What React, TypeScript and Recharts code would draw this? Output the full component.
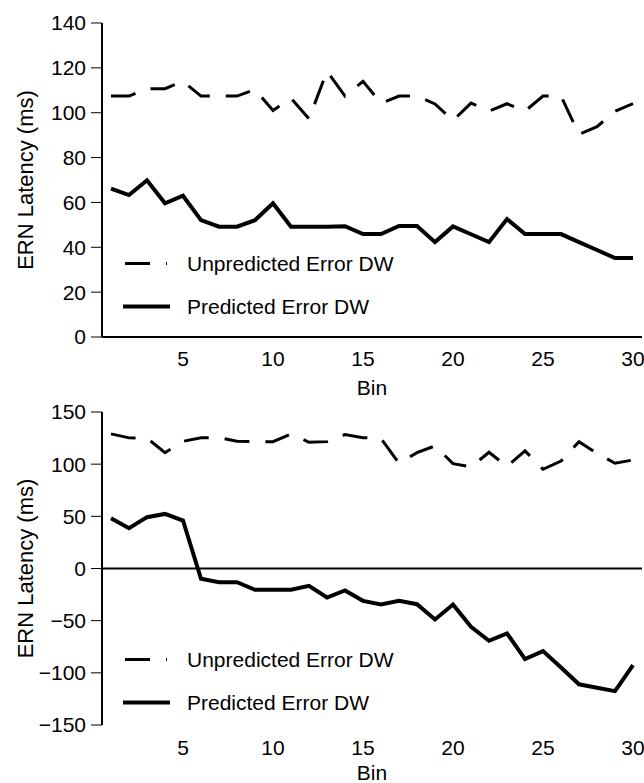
import React from 'react';
import { LineChart, Line, XAxis, YAxis, Legend, ReferenceLine } from 'recharts';

// Bin numbers along the x axis (both panels)
const bins = [1, 2, 3, 4, 5, 6, 7, 8, 9, 10, 11, 12, 13, 14, 15, 16, 17, 18, 19, 20, 21, 22, 23, 24, 25, 26, 27, 28, 29, 30];
const binTicks = [5, 10, 15, 20, 25, 30];

// Top panel: ERN latency (ms)
const topUnpredicted = [107.4, 107.4, 110.7, 110.7, 114, 107.4, 107.4, 107.4, 110.4, 101, 106.5, 97.3, 118.5, 107.4, 114, 104.2, 107.4, 107.4, 103.9, 96.5, 104.3, 100.7, 104, 100.7, 107.4, 107.4, 90.4, 93.8, 100.6, 104];
const topPredicted = [66.2, 63.3, 69.9, 59.6, 63, 52.1, 49.2, 49.2, 52.1, 59.6, 49.2, 49.2, 49.2, 49.4, 45.9, 45.9, 49.5, 49.5, 42.3, 49.3, 45.8, 42.3, 52.6, 45.9, 45.9, 45.9, 42.3, 38.8, 35.2, 35.2];
const topTicks = [0, 20, 40, 60, 80, 100, 120, 140];

// Bottom panel: ERN latency (ms)
const bottomUnpredicted = [129, 125.2, 125, 111, 121.9, 125.4, 125.4, 121.9, 121.6, 121.6, 129, 121, 121.6, 128.3, 125.4, 124.6, 100.9, 111, 117.5, 100.5, 97.3, 111.4, 97.7, 112.7, 95.1, 103, 121.6, 110.4, 100.9, 104];
const bottomPredicted = [48.2, 38.6, 49.2, 52.3, 46, -9.9, -13.1, -13.1, -20.4, -20.4, -20.4, -16.6, -27.8, -21, -31, -34.5, -31, -34.2, -48.8, -34.5, -55.9, -69.3, -62.2, -86.8, -79.2, -94.8, -111, -114.3, -117.5, -92.6];
const bottomTicks = [-150, -100, -50, 0, 50, 100, 150];

const seriesNames = ['Unpredicted Error DW', 'Predicted Error DW'];

const INK = '#000';
const FONT = '"Liberation Sans", Arial, Helvetica, sans-serif';
const DASH = '25 16';

const topData = bins.map((bin, i) => ({ bin, unpredicted: topUnpredicted[i], predicted: topPredicted[i] }));
const bottomData = bins.map((bin, i) => ({ bin, unpredicted: bottomUnpredicted[i], predicted: bottomPredicted[i] }));

// real minus sign for negative ticks
const formatTick = (v: number) => String(v).replace('-', '\u2212');

function YTitle(props: any) {
  const vb = props.viewBox || {};
  const cx = 25;
  const cy = vb.y + vb.height / 2;
  return (
    <text
      x={cx}
      y={cy}
      transform={`rotate(-90 ${cx} ${cy})`}
      textAnchor="middle"
      dominantBaseline="central"
      fontSize={22}
      fill={INK}
    >
      ERN Latency (ms)
    </text>
  );
}

// "Bin" sits a fixed distance under the plot
const makeXTitle = (offset: number) =>
  function XTitle(props: any) {
    const vb = props.viewBox || {};
    return (
      <text x={vb.x + vb.width / 2} y={vb.y + offset} textAnchor="middle" fontSize={21} fill={INK}>
        Bin
      </text>
    );
  };

const topXTitle = makeXTitle(58);
const bottomXTitle = makeXTitle(55);

function LegendBox() {
  return (
    <svg width={300} height={90} style={{ overflow: 'visible' }}>
      {seriesNames.map((name, i) => {
        const cy = 21.5 + i * 43;
        const dashed = i === 0;
        return (
          <g key={name}>
            <line
              x1={dashed ? 2 : 0}
              x2={dashed ? 44 : 47}
              y1={cy}
              y2={cy}
              stroke={INK}
              strokeWidth={dashed ? 3 : 4}
              strokeDasharray={dashed ? DASH : undefined}
            />
            <text x={64} y={cy + 7.5} fontSize={21} fill={INK}>
              {name}
            </text>
          </g>
        );
      })}
    </svg>
  );
}

interface PanelProps {
  data: { bin: number; unpredicted: number; predicted: number }[];
  yDomain: [number, number];
  yTicks: number[];
  height: number;
  marginTop: number;
  marginBottom: number;
  tickMargin: number;
  showBaseLine: boolean;
  zeroLine: boolean;
  legendTop: number;
  xTitle: (props: any) => React.ReactElement;
}

function Panel({ data, yDomain, yTicks, height, marginTop, marginBottom, tickMargin, showBaseLine, zeroLine, legendTop, xTitle }: PanelProps) {
  return (
    <LineChart width={644} height={height} data={data} margin={{ top: marginTop, right: 2, bottom: marginBottom, left: 42 }}>
      <XAxis
        type="number"
        dataKey="bin"
        domain={[0.5, 30.5]}
        ticks={binTicks}
        interval={0}
        height={30}
        tickLine={false}
        tickSize={0}
        tickMargin={tickMargin}
        axisLine={showBaseLine ? { stroke: INK, strokeWidth: 2 } : false}
        tick={{ fill: INK, fontSize: 21 }}
        label={xTitle}
      />
      <YAxis
        type="number"
        domain={yDomain}
        ticks={yTicks}
        interval={0}
        width={60}
        tickSize={11}
        tickMargin={5}
        tickLine={{ stroke: INK, strokeWidth: 1 }}
        axisLine={{ stroke: INK, strokeWidth: 2 }}
        tick={{ fill: INK, fontSize: 21 }}
        tickFormatter={formatTick}
        label={YTitle}
      />
      {zeroLine && <ReferenceLine y={0} stroke={INK} strokeWidth={2} />}
      <Legend
        layout="vertical"
        align="center"
        verticalAlign="middle"
        content={LegendBox}
        wrapperStyle={{ left: 123, top: legendTop, width: 300, height: 90, margin: 0 }}
      />
      <Line
        type="linear"
        dataKey="unpredicted"
        name={seriesNames[0]}
        stroke={INK}
        strokeWidth={3}
        strokeDasharray={DASH}
        dot={false}
        activeDot={false}
        isAnimationActive={false}
      />
      <Line
        type="linear"
        dataKey="predicted"
        name={seriesNames[1]}
        stroke={INK}
        strokeWidth={4}
        dot={false}
        activeDot={false}
        isAnimationActive={false}
      />
    </LineChart>
  );
}

export default function App() {
  return (
    <div
      style={{
        position: 'fixed',
        left: 0,
        top: 0,
        width: 644,
        height: 783,
        background: '#fff',
        fontFamily: FONT,
        overflow: 'hidden',
      }}
    >
      <div style={{ position: 'absolute', left: 0, top: 0 }}>
        <Panel
          data={topData}
          yDomain={[0, 140]}
          yTicks={topTicks}
          height={400}
          marginTop={23}
          marginBottom={33}
          tickMargin={14}
          showBaseLine
          zeroLine={false}
          legendTop={241.5}
          xTitle={topXTitle}
        />
      </div>
      <div style={{ position: 'absolute', left: 0, top: 380 }}>
        <Panel
          data={bottomData}
          yDomain={[-150, 150]}
          yTicks={bottomTicks}
          height={403}
          marginTop={32}
          marginBottom={28}
          tickMargin={15}
          showBaseLine={false}
          zeroLine
          legendTop={257.5}
          xTitle={bottomXTitle}
        />
      </div>
    </div>
  );
}
